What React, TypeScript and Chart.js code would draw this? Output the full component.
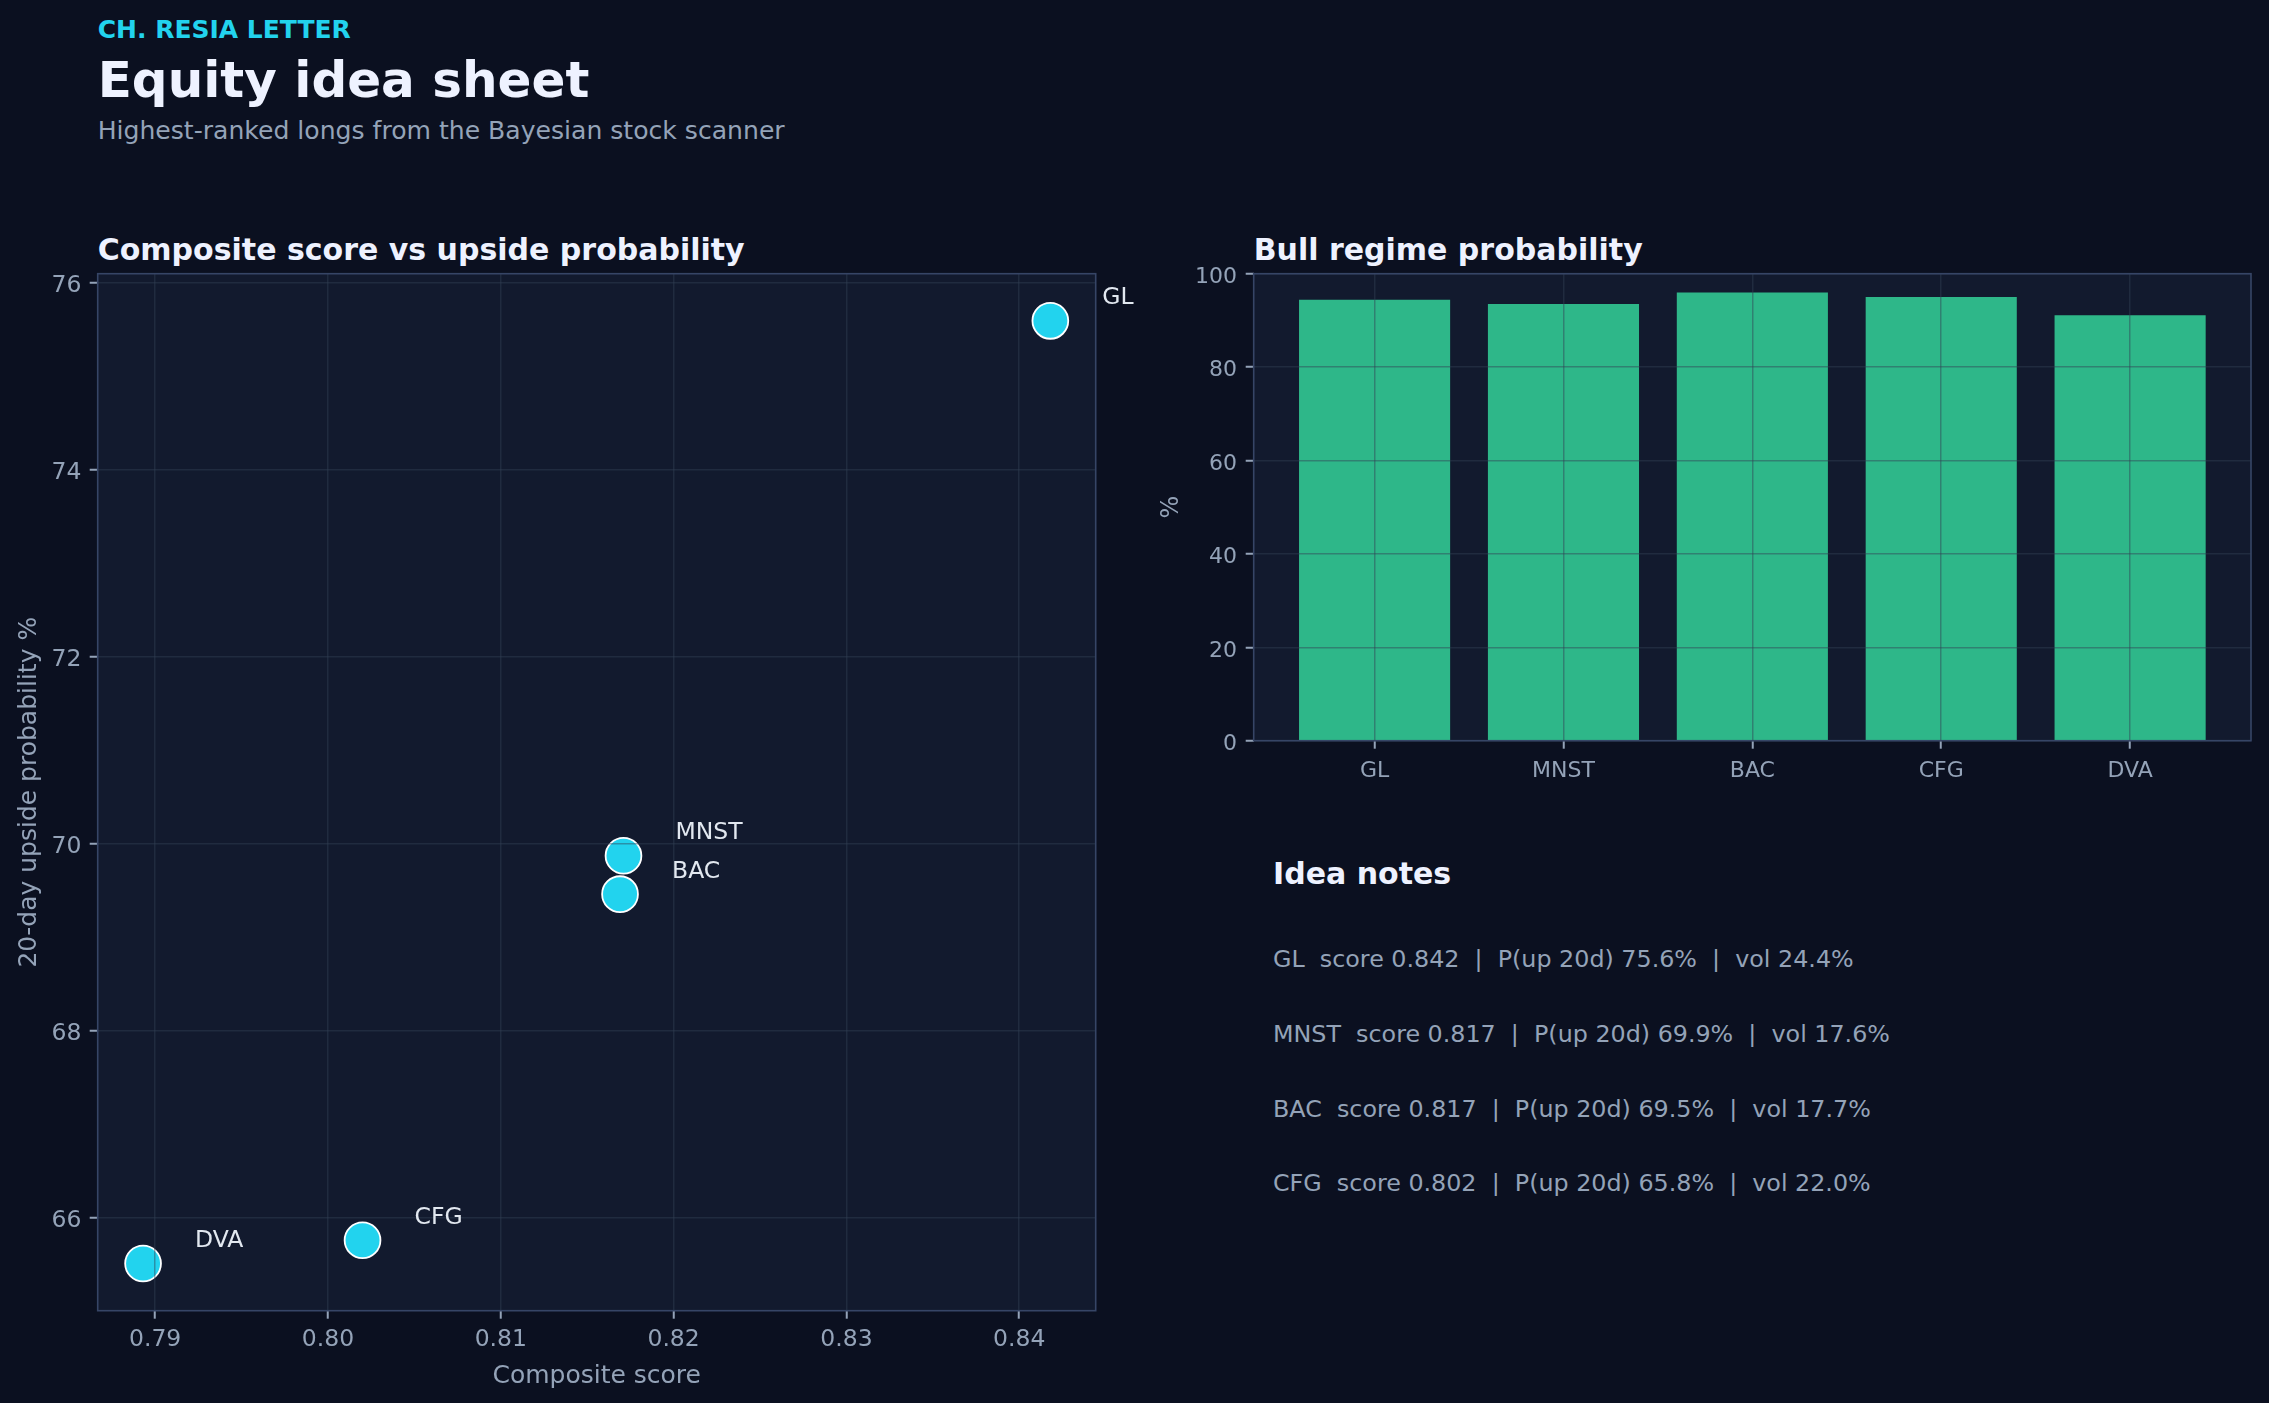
import { useEffect, useRef } from 'react';
import { Chart, registerables } from 'chart.js';
import type { Plugin } from 'chart.js';

Chart.register(...registerables);

const FONT = '"DejaVu Sans", "Liberation Sans", sans-serif';
Chart.defaults.font.family = FONT;

// data
const tickers = ['GL', 'MNST', 'BAC', 'CFG', 'DVA'];
const compositeScore = [0.8418, 0.8171, 0.8169, 0.802, 0.7893];
const upsideProb = [75.59, 69.87, 69.46, 65.76, 65.51];
const bullProb = [94.4, 93.5, 96.0, 95.0, 91.1];
const noteVol = [24.4, 17.6, 17.7, 22.0];

const scoreTicks = [0.79, 0.8, 0.81, 0.82, 0.83, 0.84];
const upsideTicks = [66, 68, 70, 72, 74, 76];
const bullTicks = [0, 20, 40, 60, 80, 100];

const palette = {
  page: '#0b1020',
  panel: '#121a2e',
  border: '#364566',
  grid: 'rgba(51,65,85,0.45)',
  tick: '#94a3b8',
  text: '#eef2ff',
  label: '#e2e8f0',
  accent: '#22d3ee',
  bar: 'rgba(52,211,153,0.85)',
};

// matplotlib-like 5% auto margins
function padRange(values: number[], margin = 0.05) {
  const lo = Math.min(...values);
  const hi = Math.max(...values);
  const span = hi - lo;
  return { min: lo - span * margin, max: hi + span * margin };
}

const panelPlugin: Plugin = {
  id: 'panel',
  beforeDraw(chart) {
    const { ctx, chartArea: a } = chart;
    ctx.save();
    ctx.fillStyle = palette.panel;
    ctx.fillRect(a.left, a.top, a.right - a.left, a.bottom - a.top);
    ctx.restore();
  },
  afterDraw(chart) {
    const { ctx, chartArea: a } = chart;
    ctx.save();
    ctx.strokeStyle = palette.border;
    ctx.lineWidth = 1.6;
    ctx.strokeRect(a.left, a.top, a.right - a.left, a.bottom - a.top);
    ctx.restore();
  },
};

const pointLabels: Plugin = {
  id: 'pointLabels',
  afterDraw(chart) {
    const { ctx } = chart;
    const meta = chart.getDatasetMeta(0);
    ctx.save();
    ctx.font = `23.5px ${FONT}`;
    ctx.fillStyle = palette.label;
    ctx.textAlign = 'left';
    ctx.textBaseline = 'alphabetic';
    meta.data.forEach((pt, i) => {
      ctx.fillText(tickers[i], pt.x + 52, pt.y - 16.5);
    });
    ctx.restore();
  },
};

const tickFont = (size: number) => ({ family: FONT, size, lineHeight: 1 });

function gridOpts() {
  return {
    color: palette.grid,
    lineWidth: 1.5,
    z: 1,
    offset: false,
    drawTicks: true,
    tickLength: 8,
    tickColor: palette.tick,
    tickWidth: 2,
  };
}

function Text(props: {
  left: number;
  baseline: number;
  size: number;
  bold?: boolean;
  color: string;
  children: string;
}) {
  const { left, baseline, size, bold, color, children } = props;
  return (
    <div
      style={{
        position: 'absolute',
        left,
        top: baseline - 0.846 * size,
        fontSize: size,
        lineHeight: 1,
        fontWeight: bold ? 700 : 400,
        color,
        whiteSpace: 'pre',
        fontFamily: FONT,
      }}
    >
      {children}
    </div>
  );
}

export default function App(): JSX.Element {
  const scatterRef = useRef<HTMLCanvasElement | null>(null);
  const barRef = useRef<HTMLCanvasElement | null>(null);

  useEffect(() => {
    if (!scatterRef.current || !barRef.current) return;

    const xr = padRange(compositeScore);
    const yr = padRange(upsideProb);

    const scatter = new Chart(scatterRef.current, {
      type: 'scatter',
      data: {
        datasets: [
          {
            data: tickers.map((_, i) => ({ x: compositeScore[i], y: upsideProb[i] })),
            backgroundColor: palette.accent,
            borderColor: '#ffffff',
            borderWidth: 1.8,
            pointRadius: 17.9,
            pointHoverRadius: 17.9,
            clip: false,
          },
        ],
      },
      options: {
        animation: false,
        responsive: true,
        maintainAspectRatio: false,
        events: [],
        layout: { padding: { top: 43.7, right: 54.3, left: 0, bottom: 0 } },
        plugins: { legend: { display: false }, tooltip: { enabled: false } },
        scales: {
          x: {
            type: 'linear',
            min: xr.min,
            max: xr.max,
            offset: false,
            afterBuildTicks: (axis) => {
              axis.ticks = scoreTicks.map((value) => ({ value }));
            },
            afterFit: (axis) => {
              axis.height = 92.3;
            },
            ticks: {
              color: palette.tick,
              font: tickFont(23.5),
              padding: 9,
              autoSkip: false,
              maxRotation: 0,
              callback: (v) => Number(v).toFixed(2),
            },
            grid: gridOpts(),
            border: { display: false },
            title: {
              display: true,
              text: 'Composite score',
              color: palette.tick,
              font: tickFont(25),
              padding: { top: 0, bottom: 14 },
            },
          },
          y: {
            type: 'linear',
            min: yr.min,
            max: yr.max,
            afterBuildTicks: (axis) => {
              axis.ticks = upsideTicks.map((value) => ({ value }));
            },
            afterFit: (axis) => {
              axis.width = 97.7;
            },
            ticks: {
              color: palette.tick,
              font: tickFont(23.5),
              padding: 8.3,
              labelOffset: 3.2,
              autoSkip: false,
              callback: (v) => String(v),
            },
            grid: gridOpts(),
            border: { display: false },
            title: {
              display: true,
              text: '20-day upside probability %',
              color: palette.tick,
              font: tickFont(25),
              padding: { top: 17.1, bottom: 0 },
            },
          },
        },
      },
      plugins: [panelPlugin, pointLabels],
    });

    const n = tickers.length;
    const barSpan = { min: -0.4 - 0.05 * (n - 1 + 0.8), max: n - 1 + 0.4 + 0.05 * (n - 1 + 0.8) };

    const bar = new Chart(barRef.current, {
      type: 'bar',
      data: {
        datasets: [
          {
            data: tickers.map((_, i) => ({ x: i, y: bullProb[i] })),
            backgroundColor: palette.bar,
            borderWidth: 0,
            barPercentage: 0.8,
            categoryPercentage: 1,
          },
        ],
      },
      options: {
        animation: false,
        responsive: true,
        maintainAspectRatio: false,
        events: [],
        layout: { padding: { top: 43.7, right: 18, left: 0, bottom: 0 } },
        plugins: { legend: { display: false }, tooltip: { enabled: false } },
        scales: {
          x: {
            type: 'linear',
            min: barSpan.min,
            max: barSpan.max,
            offset: false,
            afterBuildTicks: (axis) => {
              axis.ticks = tickers.map((_, i) => ({ value: i }));
            },
            afterFit: (axis) => {
              axis.height = 62.3;
            },
            ticks: {
              color: palette.tick,
              font: tickFont(22),
              padding: 11.5,
              autoSkip: false,
              maxRotation: 0,
              callback: (v) => tickers[Number(v)] ?? '',
            },
            grid: gridOpts(),
            border: { display: false },
          },
          y: {
            type: 'linear',
            min: 0,
            max: 100,
            afterBuildTicks: (axis) => {
              axis.ticks = bullTicks.map((value) => ({ value }));
            },
            afterFit: (axis) => {
              axis.width = 103.7;
            },
            ticks: {
              color: palette.tick,
              font: tickFont(22),
              padding: 8.7,
              labelOffset: 3.5,
              autoSkip: false,
              callback: (v) => String(v),
            },
            grid: gridOpts(),
            border: { display: false },
            title: {
              display: true,
              text: '%',
              color: palette.tick,
              font: tickFont(24),
              padding: { top: 10.2, bottom: 0 },
            },
          },
        },
      },
      plugins: [panelPlugin],
    });

    return () => {
      scatter.destroy();
      bar.destroy();
    };
  }, []);

  const notes = noteVol.map(
    (vol, i) =>
      `${tickers[i]}  score ${compositeScore[i].toFixed(3)}  |  P(up 20d) ${upsideProb[i].toFixed(1)}%  |  vol ${vol.toFixed(1)}%`,
  );

  return (
    <div
      style={{
        position: 'relative',
        width: 2269,
        height: 1403,
        background: palette.page,
        overflow: 'hidden',
        fontFamily: FONT,
      }}
    >
      <style>{'body{margin:0;background:#0b1020;overflow:hidden;}'}</style>
      <Text left={97.7} baseline={38.5} size={25} bold color={palette.accent}>
        CH. RESIA LETTER
      </Text>
      <Text left={97.7} baseline={97.2} size={50} bold color={palette.text}>
        Equity idea sheet
      </Text>
      <Text left={97.7} baseline={139} size={25.1} color={palette.tick}>
        Highest-ranked longs from the Bayesian stock scanner
      </Text>
      <Text left={97.7} baseline={260.7} size={30} bold color={palette.text}>
        Composite score vs upside probability
      </Text>
      <Text left={1253.7} baseline={260.7} size={30} bold color={palette.text}>
        Bull regime probability
      </Text>

      <div style={{ position: 'absolute', left: 0, top: 230, width: 1150, height: 1173 }}>
        <canvas ref={scatterRef} />
      </div>
      <div style={{ position: 'absolute', left: 1150, top: 230, width: 1119, height: 573 }}>
        <canvas ref={barRef} />
      </div>

      <Text left={1273} baseline={884.5} size={30} bold color={palette.text}>
        Idea notes
      </Text>
      {notes.map((line, i) => (
        <Text key={line} left={1273} baseline={968.5 + i * 74.6} size={23.8} color={palette.tick}>
          {line}
        </Text>
      ))}
    </div>
  );
}
